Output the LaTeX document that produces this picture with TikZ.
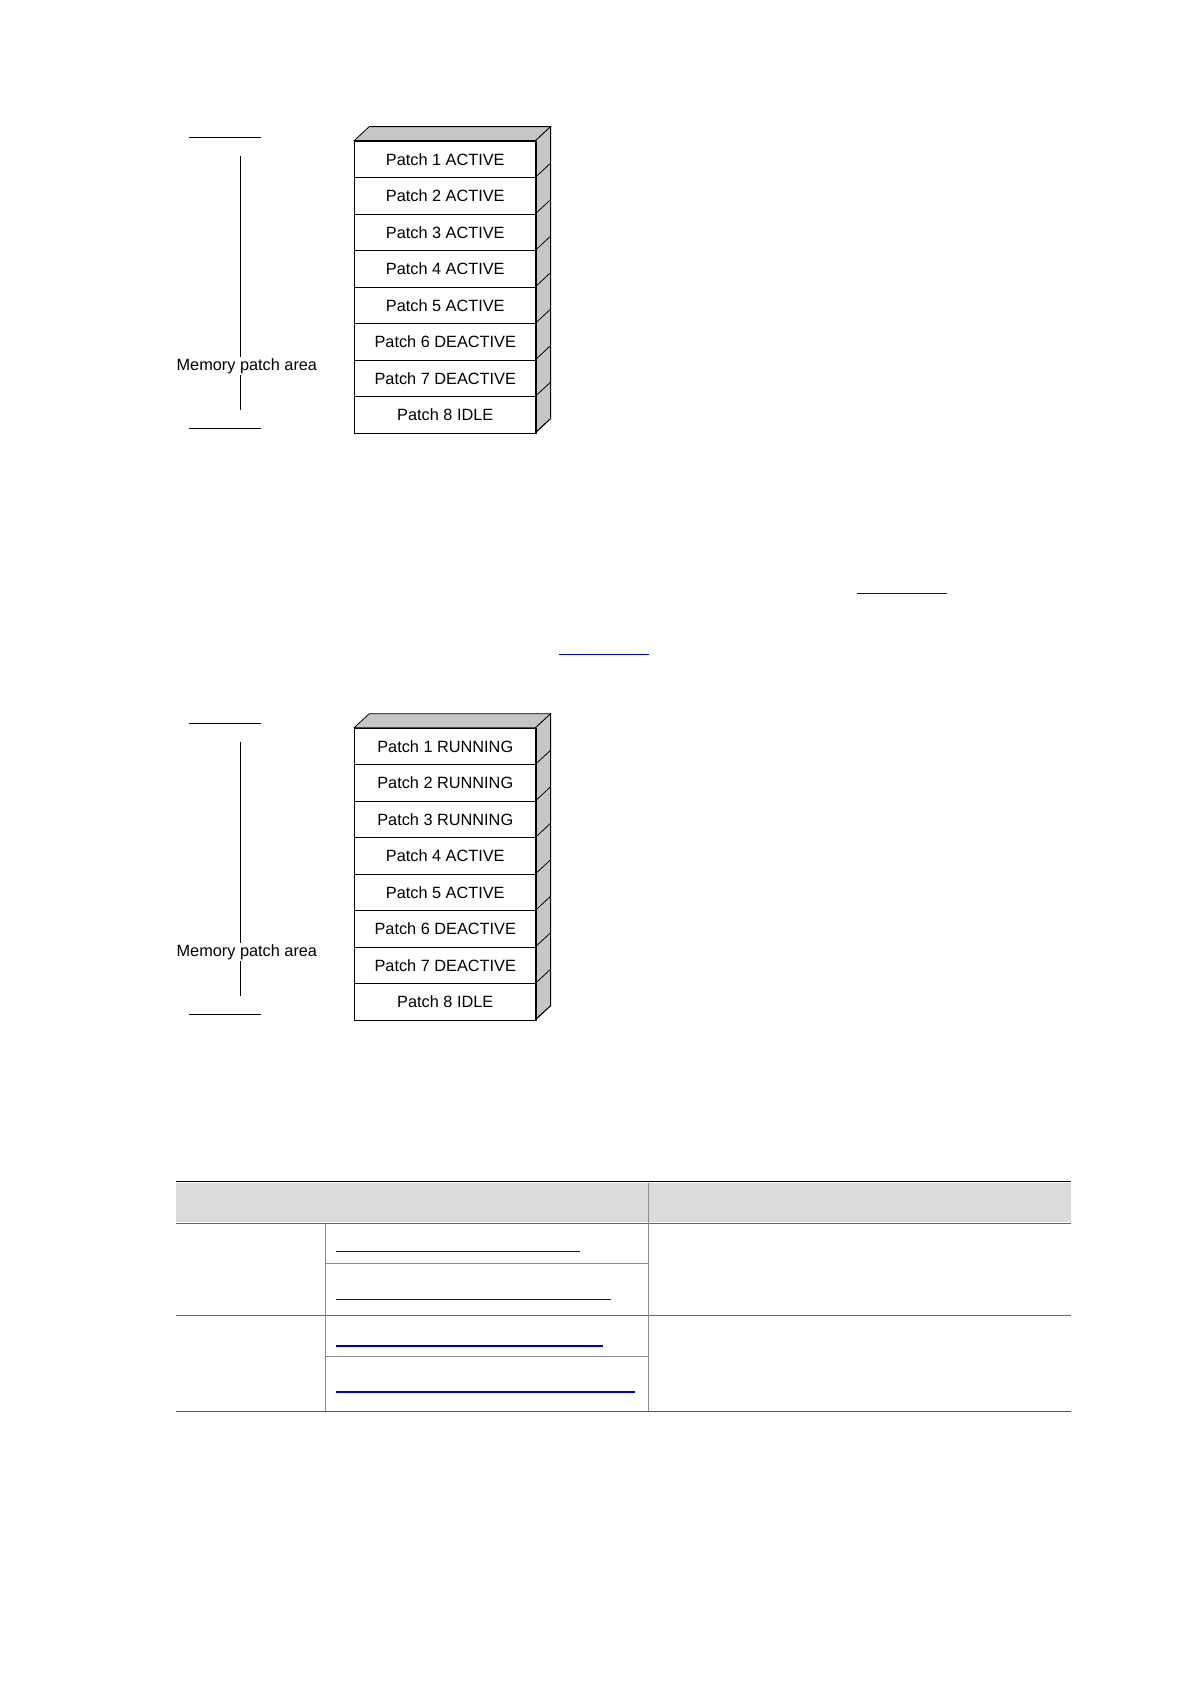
\documentclass[tikz,border=0pt]{standalone}
\usepackage{fontspec}
\setmainfont{Liberation Sans}
\begin{document}
\begin{tikzpicture}[x=1.073pt,y=-1.073pt,
  cell/.style={draw,line width=0.8pt,minimum width=181.3pt,minimum height=36.5pt,inner sep=0pt,anchor=north west,font=\fontsize{16.3}{18}\selectfont},
  lbl/.style={font=\fontsize{16.3}{18}\selectfont,fill=white,inner sep=1pt},
  link/.style={draw={rgb,255:red,0;green,0;blue,190},line width=1.3pt},
  face/.style={draw,fill=gray!45,line width=0.8pt}]
\useasboundingbox (0,0) rectangle (1109,1569);
\newcommand\stack[3]{%
  \path[face] (330,#1) -- (344,#1-13) -- (513,#1-13) -- (499,#1) -- cycle;
  \path[face] (499,#1) -- (513,#1-13) -- (513,#1+259) -- (499,#1+272) -- cycle;
  \foreach \t [count=\i] in {#2} {
    \node[cell] (#3\i) at (330,{#1+(\i-1)*34}) {\t};
    \draw[line width=0.8pt] (499,{#1+\i*34}) -- (513,{#1+\i*34-13});
  }
}
\stack{131}{Patch 1 ACTIVE,Patch 2 ACTIVE,Patch 3 ACTIVE,Patch 4 ACTIVE,Patch 5 ACTIVE,Patch 6 DEACTIVE,Patch 7 DEACTIVE,Patch 8 IDLE}{a}
\stack{678}{Patch 1 RUNNING,Patch 2 RUNNING,Patch 3 RUNNING,Patch 4 ACTIVE,Patch 5 ACTIVE,Patch 6 DEACTIVE,Patch 7 DEACTIVE,Patch 8 IDLE}{b}
% brackets
\draw (176,128) -- (243,128); \draw (176,399) -- (243,399);
\draw (224,145) -- (224,382);
\node[lbl] (m1) at (230,341) {Memory patch area};
\draw (176,674) -- (243,674); \draw (176,945) -- (243,945);
\draw (224,691) -- (224,928);
\node[lbl] (m2) at (230,887) {Memory patch area};
% links
\draw[link] (798,553) -- (882,553);
\draw[link] (521,610) -- (605,610);
% table
\fill[gray!28] (164,1102) rectangle (998,1139);
\draw[line width=1pt] (164,1101) -- (998,1101);
\draw[gray!80!black,line width=0.8pt] (164,1140) -- (998,1140);
\draw[gray!80!black,line width=0.8pt] (164,1226) -- (998,1226);
\draw[gray!70!black,line width=0.9pt] (164,1315) -- (998,1315);
\draw[gray!90,line width=0.6pt] (303,1177) -- (604,1177);
\draw[gray!90,line width=0.6pt] (303,1264) -- (604,1264);
\draw[gray!90,line width=0.6pt] (303,1140) -- (303,1315);
\draw[gray!90,line width=0.6pt] (604,1102) -- (604,1315);
\draw[link] (313,1166) -- (540,1166);
\draw[link] (313,1211) -- (569,1211);
\draw[link] (313,1254) -- (562,1254);
\draw[link] (313,1297) -- (592,1297);
\end{tikzpicture}
\end{document}
